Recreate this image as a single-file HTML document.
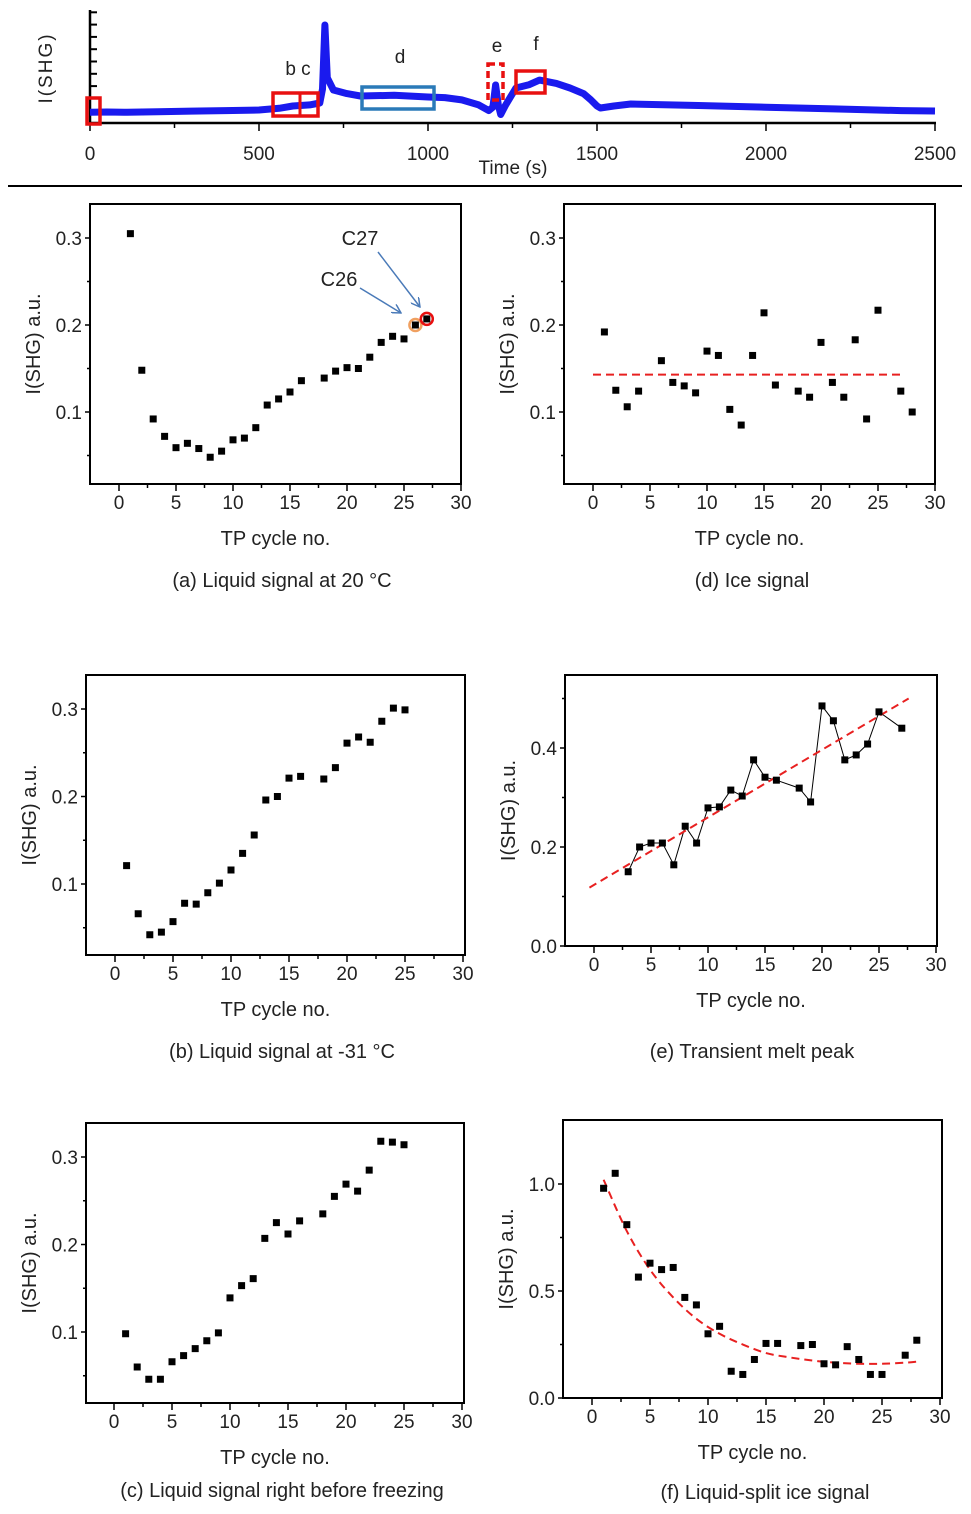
<!DOCTYPE html>
<html><head><meta charset="utf-8"><style>
html,body{margin:0;padding:0;background:#fff;}
svg{display:block;font-family:"Liberation Sans",sans-serif;}
</style></head><body>
<svg id="fig" width="971" height="1514" viewBox="0 0 971 1514" xmlns="http://www.w3.org/2000/svg"></svg>
<script>
// ---- top trace data ----
const traceT = [0,50,100,200,300,400,500,560,600,650,680,688,695,702,720,760,800,900,1000,1050,1100,1150,1180,1192,1200,1208,1215,1230,1260,1300,1330,1380,1420,1460,1480,1500,1510,1550,1600,1800,2000,2200,2400,2500];
const traceV = [0.95,0.97,0.95,1.0,1.05,1.1,1.15,1.3,1.5,1.6,1.77,3.0,8.67,4.0,2.92,2.6,2.39,2.45,2.3,2.25,2.04,1.6,1.1,1.4,3.36,1.6,0.75,1.6,3.1,3.4,3.8,3.5,3.1,2.6,2.1,1.5,1.33,1.5,1.68,1.55,1.4,1.25,1.1,1.06];
const topXTicks = [0,500,1000,1500,2000,2500];

// ---- panel data ----
const aX = [1,2,3,4,5,6,7,8,9,10,11,12,13,14,15,16,18,19,20,21,22,23,24,25,26,27];
const aY = [0.305,0.148,0.092,0.072,0.059,0.064,0.058,0.048,0.055,0.068,0.070,0.082,0.108,0.115,0.123,0.136,0.139,0.147,0.151,0.150,0.163,0.180,0.187,0.184,0.200,0.207];
const dX = [1,2,3,4,6,7,8,9,10,11,12,13,14,15,16,18,19,20,21,22,23,24,25,27,28];
const dY = [0.192,0.125,0.106,0.124,0.159,0.134,0.130,0.122,0.170,0.165,0.103,0.085,0.165,0.214,0.131,0.124,0.117,0.180,0.134,0.117,0.183,0.092,0.217,0.124,0.100];
const dMean = 0.143;
const bX = [1,2,3,4,5,6,7,8,9,10,11,12,13,14,15,16,18,19,20,21,22,23,24,25];
const bY = [0.121,0.066,0.042,0.045,0.057,0.078,0.077,0.090,0.101,0.116,0.135,0.156,0.196,0.200,0.221,0.223,0.220,0.233,0.261,0.268,0.262,0.286,0.301,0.299];
const cX = [1,2,3,4,5,6,7,8,9,10,11,12,13,14,15,16,18,19,20,21,22,23,24,25];
const cY = [0.098,0.060,0.046,0.046,0.066,0.073,0.081,0.090,0.099,0.139,0.153,0.161,0.207,0.225,0.212,0.227,0.235,0.255,0.269,0.261,0.285,0.318,0.317,0.314];
const eX = [3,4,5,6,7,8,9,10,11,12,13,14,15,16,18,19,20,21,22,23,24,25,27];
const eY = [0.150,0.200,0.208,0.208,0.164,0.242,0.208,0.279,0.281,0.315,0.303,0.376,0.341,0.335,0.319,0.291,0.485,0.455,0.376,0.386,0.408,0.473,0.440];
const eFitX = [-0.4,27.6];
const eFitY = [0.118,0.500];
const fX = [1,2,3,4,5,6,7,8,9,10,11,12,13,14,15,16,18,19,20,21,22,23,24,25,27,28];
const fY = [0.98,1.05,0.81,0.565,0.63,0.60,0.61,0.47,0.435,0.30,0.335,0.125,0.11,0.18,0.255,0.255,0.245,0.25,0.16,0.155,0.24,0.18,0.11,0.11,0.20,0.27];
const fFitX = [1,3,5,7,9,11,13,15,17,19,21,23,25,27,28];
const fFitY = [1.02,0.78,0.60,0.47,0.37,0.30,0.25,0.21,0.19,0.175,0.165,0.16,0.16,0.165,0.17];
const xTickLabels = [0,5,10,15,20,25,30];

const NS = "http://www.w3.org/2000/svg";
const svg = document.getElementById('fig');
function mk(tag, attrs, parent){
  const e = document.createElementNS(NS, tag);
  for (const k in attrs) e.setAttribute(k, attrs[k]);
  (parent||svg).appendChild(e);
  return e;
}
function txt(s, x, y, size, anchor, parent){
  const t = mk('text', {x:x, y:y, 'font-size':size, 'text-anchor':anchor||'middle', fill:'#222'}, parent);
  t.textContent = s;
  return t;
}

// ---- top panel ----
const topG = mk('g', {});


const tx = t => 90 + t * (845/2500);
const ty = v => 123 - v * 11.3;
mk('line', {x1:90,y1:10,x2:90,y2:124,stroke:'#000','stroke-width':2.5}, topG);
mk('line', {x1:89,y1:123,x2:936,y2:123,stroke:'#000','stroke-width':2.5}, topG);
for (let i=0;i<10;i++){ const y=123-i*12.3; mk('line',{x1:90,y1:y,x2:97,y2:y,stroke:'#000','stroke-width':2},topG); }
for (let t=0;t<=2500;t+=250){ const big = t%500===0; mk('line',{x1:tx(t),y1:123,x2:tx(t),y2:big?131:128,stroke:'#000','stroke-width':1.5},topG); }
topXTicks.forEach(t => txt(String(t), tx(t), 160, 19, 'middle', topG));
const tl = txt('Time (s)', 513, 174, 19, 'middle', topG);

const yl = txt('I(SHG)', 0, 0, 19, 'middle', topG);
yl.setAttribute('transform','translate(52,68) rotate(-90)');
yl.setAttribute('letter-spacing','2');
let dTrace = traceT.map((t,i)=>(i?'L':'M')+tx(t).toFixed(1)+','+ty(traceV[i]).toFixed(1)).join(' ');
const tr = mk('path', {d:dTrace, fill:'none', stroke:'#1a1aee','stroke-width':7,'stroke-linejoin':'round'}, topG);


function rect(x,y,w,h,col,dash,name){
  const r = mk('rect',{x:x,y:y,width:w,height:h,fill:'none',stroke:col,'stroke-width':3.5},topG);
  if (dash) r.setAttribute('stroke-dasharray','7,4');
  
  
}
rect(87,98,13,26,'#e81010',false,'region-a-box');
rect(273,93,45,23,'#e81010',false,'region-bc-box');
mk('line',{x1:300,y1:93,x2:300,y2:116,stroke:'#e81010','stroke-width':3},topG);
rect(362,87,72,22,'#2a7ab8',false,'region-d-box');
rect(488,64,15,36,'#e81010',true,'region-e-box');
rect(516,71,29,22,'#e81010',false,'region-f-box');
txt('b c',298,75,19,'middle',topG);
txt('d',400,63,19,'middle',topG);
txt('e',497,52,19,'middle',topG);
txt('f',536,50,19,'middle',topG);
mk('line',{x1:8,y1:186,x2:962,y2:186,stroke:'#000','stroke-width':2});

// ---- scatter panels ----
function panel(cfg){
  const g = mk('g', {});
  
  
  const X = c => cfg.x0 + c*cfg.xs;
  const Y = v => cfg.yref - (v - cfg.vref)*cfg.ys;
  mk('rect',{x:cfg.L,y:cfg.T,width:cfg.R-cfg.L,height:cfg.B-cfg.T,fill:'none',stroke:'#000','stroke-width':2},g);
  for (let c=0;c<=30;c+=2.5){ const big=c%5===0; mk('line',{x1:X(c),y1:cfg.B,x2:X(c),y2:cfg.B+(big?7:4),stroke:'#000','stroke-width':1.5},g); }
  xTickLabels.forEach(c => txt(String(c), X(c), cfg.B+25, 19, 'middle', g));
  cfg.yticks.forEach(v => {
    mk('line',{x1:cfg.L-5,y1:Y(v),x2:cfg.L,y2:Y(v),stroke:'#000','stroke-width':1.5},g);
    txt(v.toFixed(1), cfg.L-8, Y(v)+7, 19, 'end', g);
  });
  (cfg.minor||[]).forEach(v => mk('line',{x1:cfg.L-3,y1:Y(v),x2:cfg.L,y2:Y(v),stroke:'#000','stroke-width':1.5},g));
  const xt = txt('TP cycle no.', (cfg.L+cfg.R)/2, cfg.B+61, 20, 'middle', g);
  
  const ytt = txt('I(SHG)  a.u.', 0, 0, 20, 'middle', g);
  ytt.setAttribute('transform','translate('+(cfg.L-50)+','+((cfg.T+cfg.B)/2)+') rotate(-90)');
  
  const cap = txt(cfg.caption, cfg.capX, cfg.capY, 20, 'middle', g);
  
  if (cfg.connect){
    const p = mk('path',{d:cfg.xs_.map((c,i)=>(i?'L':'M')+X(c)+','+Y(cfg.ys_[i])).join(' '),fill:'none',stroke:'#000','stroke-width':1},g);
    
  }
  if (cfg.fitX){
    let d;
    if (cfg.fitX.length===2) d='M'+X(cfg.fitX[0])+','+Y(cfg.fitY[0])+' L'+X(cfg.fitX[1])+','+Y(cfg.fitY[1]);
    else {
      const pts = cfg.fitX.map((c,i)=>[X(c),Y(cfg.fitY[i])]);
      d='M'+pts[0][0]+','+pts[0][1];
      for (let i=1;i<pts.length;i++){
        const p0=pts[Math.max(0,i-2)],p1=pts[i-1],p2=pts[i],p3=pts[Math.min(pts.length-1,i+1)];
        d+=' C'+(p1[0]+(p2[0]-p0[0])/6)+','+(p1[1]+(p2[1]-p0[1])/6)+' '+(p2[0]-(p3[0]-p1[0])/6)+','+(p2[1]-(p3[1]-p1[1])/6)+' '+p2[0]+','+p2[1];
      }
    }
    const f = mk('path',{d:d,fill:'none',stroke:'#e82020','stroke-width':2,'stroke-dasharray':'8,5'},g);
    
  }
  cfg.xs_.forEach((c,i)=>{
    const r = mk('rect',{x:X(c)-3.5,y:Y(cfg.ys_[i])-3.5,width:7,height:7,fill:'#000'},g);
    
    
  });
  return {g:g,X:X,Y:Y};
}

const pa = panel({name:'panel-a',L:90,T:204,R:461,B:484,x0:119,xs:11.4,yref:412,vref:0.1,ys:870,yticks:[0.1,0.2,0.3],minor:[0.05,0.15,0.25],xs_:aX,ys_:aY,caption:'(a) Liquid signal at 20 °C',capX:282,capY:587});
const c26 = mk('circle',{cx:pa.X(26),cy:pa.Y(0.200),r:6,fill:'none',stroke:'#f0a060','stroke-width':2.5},pa.g);

const c27 = mk('circle',{cx:pa.X(27),cy:pa.Y(0.207),r:6,fill:'none',stroke:'#e81010','stroke-width':2.5},pa.g);

const defs = mk('defs',{});
const mkr = mk('marker',{id:'ah',markerWidth:10,markerHeight:10,refX:9,refY:5,orient:'auto',markerUnits:'userSpaceOnUse'},defs);
mk('path',{d:'M0,0 L9,5 L0,10',fill:'none',stroke:'#4a7ab8','stroke-width':1.5},mkr);
mk('line',{x1:360,y1:288,x2:401,y2:313,stroke:'#4a7ab8','stroke-width':1.5,'marker-end':'url(#ah)'},pa.g);
mk('line',{x1:378,y1:252,x2:420,y2:307,stroke:'#4a7ab8','stroke-width':1.5,'marker-end':'url(#ah)'},pa.g);
txt('C26',339,286,20,'middle',pa.g);
txt('C27',360,245,20,'middle',pa.g);

const pd = panel({name:'panel-d',L:564,T:204,R:935,B:484,x0:593,xs:11.4,yref:412,vref:0.1,ys:870,yticks:[0.1,0.2,0.3],minor:[0.05,0.15,0.25],xs_:dX,ys_:dY,caption:'(d) Ice signal',capX:752,capY:587});
const ml = mk('line',{x1:pd.X(0),y1:pd.Y(dMean),x2:pd.X(27),y2:pd.Y(dMean),stroke:'#e82020','stroke-width':2,'stroke-dasharray':'8,5'},pd.g);


panel({name:'panel-b',L:86,T:675,R:465,B:955,x0:115,xs:11.6,yref:884,vref:0.1,ys:875,yticks:[0.1,0.2,0.3],minor:[0.05,0.15,0.25],xs_:bX,ys_:bY,caption:'(b) Liquid signal at -31 °C',capX:282,capY:1058});
panel({name:'panel-e',L:565,T:675,R:937,B:946,x0:594,xs:11.4,yref:946,vref:0,ys:495,yticks:[0.0,0.2,0.4],minor:[0.1,0.3,0.5],xs_:eX,ys_:eY,connect:true,fitX:eFitX,fitY:eFitY,caption:'(e) Transient melt peak',capX:752,capY:1058});
panel({name:'panel-c',L:86,T:1123,R:464,B:1403,x0:114,xs:11.6,yref:1332,vref:0.1,ys:875,yticks:[0.1,0.2,0.3],minor:[0.05,0.15,0.25],xs_:cX,ys_:cY,caption:'(c) Liquid signal right before freezing',capX:282,capY:1497});
panel({name:'panel-f',L:563,T:1120,R:942,B:1398,x0:592,xs:11.6,yref:1398,vref:0,ys:214,yticks:[0.0,0.5,1.0],minor:[0.25,0.75],xs_:fX,ys_:fY,fitX:fFitX,fitY:fFitY,caption:'(f)  Liquid-split ice signal',capX:765,capY:1499});
</script>
</body></html>
